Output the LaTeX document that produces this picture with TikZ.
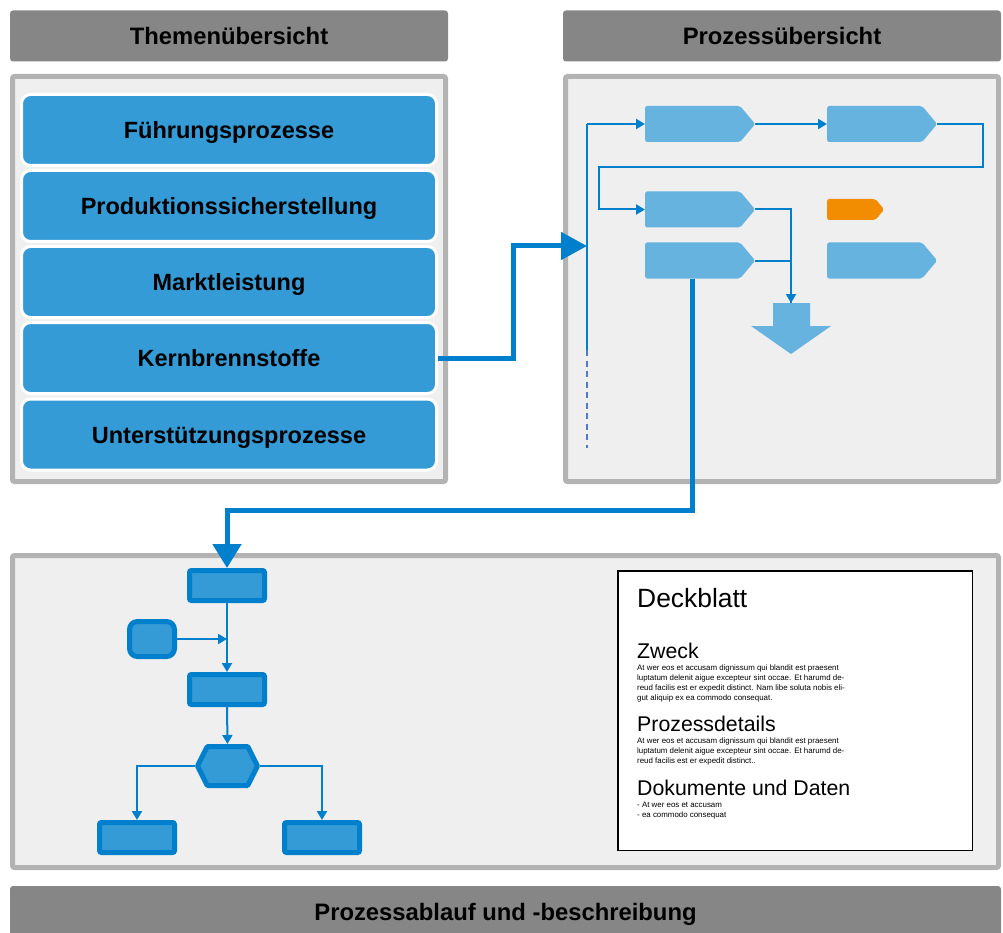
\documentclass[tikz,border=0pt]{standalone}
\usepackage{fontspec}
\setmainfont{Liberation Sans}
\usetikzlibrary{shapes,arrows.meta}
\definecolor{headgray}{RGB}{134,134,134}
\definecolor{panelgray}{RGB}{179,179,179}
\definecolor{panelfill}{RGB}{239,239,239}
\definecolor{topicblue}{RGB}{52,155,214}
\definecolor{flowblue}{RGB}{0,128,204}
\definecolor{procblue}{RGB}{102,179,224}
\definecolor{procorange}{RGB}{242,140,0}
\definecolor{dashblue}{RGB}{79,123,200}

\begin{document}
\begin{tikzpicture}[x=1pt, y=-1pt,
  header/.style={fill=headgray, rounded corners=3pt, minimum width=438pt, minimum height=51pt, inner sep=0pt, text height=17pt, text depth=0pt, font=\fontsize{23.8}{28}\selectfont\bfseries},
  panel/.style={draw=panelgray, fill=panelfill, line width=5pt, rounded corners=2pt, inner sep=0pt},
  topic/.style={draw=white, fill=topicblue, line width=3pt, rounded corners=9pt, minimum width=415pt, minimum height=71pt, inner sep=0pt, text height=17pt, text depth=0pt, font=\fontsize{23.5}{28}\selectfont\bfseries},
  prozess/.style={signal, signal to=east, signal pointer angle=100, fill=procblue, rounded corners=2pt, minimum width=110pt, minimum height=36pt, inner sep=0pt, anchor=west},
  schritt/.style={draw=flowblue, fill=topicblue, line width=5pt, rounded corners=2pt, minimum width=75pt, minimum height=30pt, inner sep=0pt},
  flow/.style={draw=flowblue, line width=2pt},
  flowtip/.style={flow, -{Triangle[length=9pt,width=10pt]}},
  bigflow/.style={draw=flowblue, line width=5pt, -{Triangle[length=26pt,width=27pt]}},
  dochead/.style={anchor=base west, inner sep=0pt, font=\fontsize{21.3}{24}\selectfont},
  docbody/.style={anchor=north west, inner sep=0pt, align=left, font=\fontsize{7.9}{10}\selectfont}]
  \useasboundingbox (0,0) rectangle (1003,933);

  % headers and panels
  \node[header] (themenkopf) at (229,36) {Themenübersicht};
  \node[header] (prozesskopf) at (782,36) {Prozessübersicht};
  \node[header, minimum width=991pt] (ablaufkopf) at (505.5,911.5) {Prozessablauf und -beschreibung};
  \node[panel, minimum width=433pt, minimum height=405pt] (themen) at (229,279) {};
  \node[panel, minimum width=433pt, minimum height=405pt] (prozesse) at (782,279) {};
  \node[panel, minimum width=986pt, minimum height=312pt] (ablauf) at (505.5,711.5) {};

  % topics
  \node[topic] (fuehrung) at (229,130) {Führungsprozesse};
  \node[topic] (produktion) at (229,206) {Produktionssicherstellung};
  \node[topic] (markt) at (229,282) {Marktleistung};
  \node[topic] (kern) at (229,358) {Kernbrennstoffe};
  \node[topic] (support) at (229,434.5) {Unterstützungsprozesse};

  % process overview
  \node[prozess] (prog1) at (645,124) {};
  \node[prozess] (prog2) at (827,124) {};
  \node[prozess] (prog3) at (645,209.5) {};
  \node[prozess] (prog4) at (645,260.5) {};
  \node[prozess] (prog5) at (827,260.5) {};
  \node[prozess, fill=procorange, minimum width=57pt, minimum height=21pt] (prog6) at (827,209.5) {};
  \fill[procblue] (773,303) -- (810,303) -- (810,326) -- (831,326) -- (791,354) -- (751,326) -- (773,326) -- cycle;
  \coordinate (sink) at (791,303);
  \coordinate (spinetop) at (587,124);
  \coordinate (spinein) at (587,246);
  \coordinate (spineend) at (587,350);
  \coordinate (spinetail) at (587,448);
  \coordinate (loopturn) at (599,167);

  \draw[flow] (spinetop) -- (spineend);
  \draw[flow, draw=dashblue, dash pattern=on 6pt off 4.5pt] (spineend) -- (spinetail);
  \draw[flowtip] (spinetop) -- (prog1.west);
  \draw[flowtip] (prog1.east) -- (prog2.west);
  \draw[flowtip] (prog2.east) -- ++(46,0) |- (loopturn) |- (prog3.west);
  \draw[flowtip] (prog3.east) -| (sink);
  \draw[flow] (prog4.east) -| (sink);

  % big connectors
  \draw[bigflow] (kern.east) -- ++(75,0) |- (spinein);

  % process flow
  \node[schritt] (stepA) at (227,585.5) {};
  \node[schritt] (stepB) at (227,689.5) {};
  \node[schritt] (stepC) at (137,837.5) {};
  \node[schritt] (stepD) at (322,837.5) {};
  \node[schritt, minimum width=45pt, minimum height=35pt, rounded corners=8pt] (inbox) at (152,639) {};
  \node[schritt, signal, signal to=east and west, signal pointer angle=127, minimum width=60pt, minimum height=39pt, rounded corners=1pt] (decide) at (227.5,766) {};

  \draw[bigflow, -{Triangle[length=24pt,width=28pt]}] (prog4.south) -- ++(0,232) -| (stepA.north);
  \draw[flowtip] (stepA.south) -- (stepB.north);
  \draw[flowtip] (inbox.east) -- (inbox.east -| stepA.south);
  \draw[flowtip] (stepB.south) -- (decide.north);
  \draw[flowtip] (decide.west) -| (stepC.north);
  \draw[flowtip] (decide.east) -| (stepD.north);

  % cover sheet
  \node[draw=black, fill=white, line width=1.5pt, minimum width=354.5pt, minimum height=279.5pt, inner sep=0pt] (deckblatt) at (795,710.5) {};
  \node[dochead, font=\fontsize{26.4}{30}\selectfont] (titel) at (637,607) {Deckblatt};
  \node[dochead] (zweck) at (637,658) {Zweck};
  \node[docbody] (zwecktext) at (637,664.5) {At wer  eos et accusam dignissum qui blandit est praesent\\luptatum delenit aigue excepteur sint occae. Et harumd de-\\reud facilis est er expedit distinct. Nam libe soluta nobis eli-\\gut aliquip ex ea commodo consequat.};
  \node[dochead] (details) at (637,731) {Prozessdetails};
  \node[docbody] (detailstext) at (637,737.5) {At wer  eos et accusam dignissum qui blandit est praesent\\luptatum delenit aigue excepteur sint occae. Et harumd de-\\reud facilis est er expedit distinct..};
  \node[dochead] (dokumente) at (637,795) {Dokumente und Daten};
  \node[docbody] (dokutext) at (637,801.5) {- At wer  eos et accusam\\- ea commodo consequat};
\end{tikzpicture}
\end{document}
